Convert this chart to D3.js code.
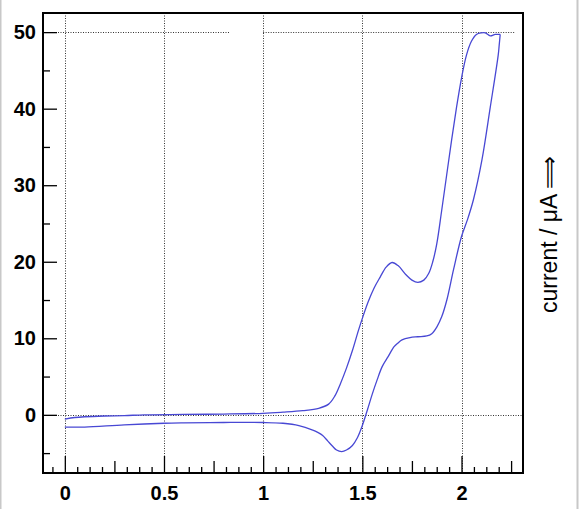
<!DOCTYPE html>
<html><head><meta charset="utf-8">
<script src="https://cdn.jsdelivr.net/npm/d3@7"></script>
<style>
html,body{margin:0;padding:0;background:#fff;}
svg{display:block;}
.tl text{font-family:"Liberation Sans",Arial,sans-serif;font-weight:bold;font-size:20px;fill:#000;}
</style></head>
<body>
<script>
// Forward sweep (potential increasing), [potential V, current µA]
const forwardX = [0,0.05,0.1,0.2,0.3,0.4,0.6,0.8,1.0,1.1,1.2,1.28,1.33,1.36,1.39,1.42,1.45,1.48,1.5,1.53,1.56,1.59,1.62,1.65,1.68,1.72,1.75,1.78,1.81,1.835,1.855,1.875,1.9,1.925,1.95,1.975,2.0,2.025,2.05,2.075,2.1,2.12,2.145,2.17,2.195];
const forwardY = [-0.55,-0.35,-0.25,-0.15,-0.1,0.0,0.05,0.1,0.2,0.35,0.55,0.85,1.4,2.4,4.1,6.1,8.4,11.0,12.6,14.8,16.6,18.0,19.3,19.9,19.5,18.3,17.6,17.3,17.6,18.5,20.0,22.3,26.7,31.3,35.9,40.2,44.0,47.0,48.8,49.7,49.9,49.9,49.5,49.7,49.7];
// Reverse sweep (potential decreasing)
const reverseX = [2.195,2.19,2.185,2.145,2.103,2.06,2.03,2.0,1.96,1.926,1.9,1.876,1.85,1.825,1.78,1.74,1.70,1.68,1.66,1.63,1.6,1.575,1.55,1.525,1.5,1.475,1.45,1.42,1.396,1.37,1.35,1.325,1.3,1.275,1.25,1.18,1.1,1.0,0.8,0.6,0.5,0.3,0.1,0];
const reverseY = [49.7,48.3,47.0,40.2,33.3,28.1,25.5,23.3,19.0,15.0,12.8,11.5,10.6,10.3,10.2,10.1,9.8,9.4,8.9,7.6,6.3,4.6,2.7,0.6,-1.4,-3.0,-4.0,-4.6,-4.8,-4.6,-4.1,-3.4,-2.7,-2.3,-2.0,-1.4,-1.1,-1.0,-1.0,-1.05,-1.1,-1.3,-1.6,-1.6];

const xMajor = [0,0.5,1,1.5,2];
const yMajor = [0,10,20,30,40,50];
const yLabel = "current / μA ⟹";

const W = 579, H = 509;
const L = 43, R = 523, T = 13, B = 473;
const svg = d3.select("body").append("svg").attr("width",W).attr("height",H);

const x = d3.scaleLinear().domain([-0.11,2.31]).range([L,R]);
const y = d3.scaleLinear().domain([-7.6,52.5]).range([B,T]);

// outer light border
svg.append("line").attr("x1",0.5).attr("x2",0.5).attr("y1",0).attr("y2",H).attr("stroke","#c8c8c8").attr("stroke-width",2);
svg.append("line").attr("x1",W-1.5).attr("x2",W-1.5).attr("y1",0).attr("y2",H).attr("stroke","#c8c8c8").attr("stroke-width",2);

// grid
const grid = svg.append("g").attr("stroke","#333").attr("stroke-width",1).attr("stroke-dasharray","1,1.5");
xMajor.forEach(v=>{
  grid.append("line").attr("x1",Math.round(x(v))+0.5).attr("x2",Math.round(x(v))+0.5).attr("y1",T).attr("y2",B);
});
grid.append("line").attr("x1",L).attr("x2",R).attr("y1",Math.round(y(0))+0.5).attr("y2",Math.round(y(0))+0.5);
grid.append("line").attr("x1",L).attr("x2",x(0.83)).attr("y1",Math.round(y(50))+0.5).attr("y2",Math.round(y(50))+0.5);
grid.append("line").attr("x1",x(1.0)).attr("x2",x(2.27)).attr("y1",Math.round(y(50))+0.5).attr("y2",Math.round(y(50))+0.5);

// x ticks (inside)
const xMinor = d3.range(-1,37).map(i=>i*0.0625).filter(v=>Math.abs(v*4-Math.round(v*4))>1e-6);
const xMed = [0.25,0.75,1.25,1.75,2.25];
function tickAxis(gen, vals, size, tr){
  const g = svg.append("g").attr("transform",tr)
    .call(gen.tickValues(vals).tickSize(size).tickFormat(""));
  g.select(".domain").remove();
  g.selectAll("line").attr("stroke","#000").attr("stroke-width",1.3);
  return g;
}
tickAxis(d3.axisBottom(x), xMinor, -6, `translate(0,${B})`);
tickAxis(d3.axisBottom(x), xMed, -12, `translate(0,${B})`);
tickAxis(d3.axisBottom(x), xMajor, -17, `translate(0,${B})`);
const yMinor = [-5,5,15,25,35,45];
tickAxis(d3.axisLeft(y), yMinor, -7, `translate(${L},0)`);
tickAxis(d3.axisLeft(y), yMajor, -14, `translate(${L},0)`);

// labels
const xl = svg.append("g").attr("class","tl").attr("transform",`translate(0,${B})`)
  .call(d3.axisBottom(x).tickValues(xMajor).tickSize(0).tickPadding(13).tickFormat(d3.format("")));
xl.select(".domain").remove();
const yl = svg.append("g").attr("class","tl").attr("transform",`translate(${L},0)`)
  .call(d3.axisLeft(y).tickValues(yMajor).tickSize(0).tickPadding(7).tickFormat(d3.format("")));
yl.select(".domain").remove();

// curve
const line = d3.line().x(d=>x(d[0])).y(d=>y(d[1])).curve(d3.curveCatmullRom.alpha(0.5));
const fwd = forwardX.map((v,i)=>[v,forwardY[i]]);
const rev = reverseX.map((v,i)=>[v,reverseY[i]]);
svg.append("path").datum(fwd).attr("d",line).attr("fill","none").attr("stroke","#4848d4").attr("stroke-width",1.3);
svg.append("path").datum(rev).attr("d",line).attr("fill","none").attr("stroke","#4848d4").attr("stroke-width",1.3);

// frame
svg.append("rect").attr("x",L).attr("y",T).attr("width",R-L).attr("height",B-T)
  .attr("fill","none").attr("stroke","#000").attr("stroke-width",2);

// right axis label
svg.append("text").attr("transform",`translate(557,313) rotate(-90)`)
  .attr("font-family","'Liberation Sans',Arial,sans-serif").attr("font-size",23)
  .attr("text-anchor","start").attr("fill","#000").text(yLabel);
</script>
</body></html>
